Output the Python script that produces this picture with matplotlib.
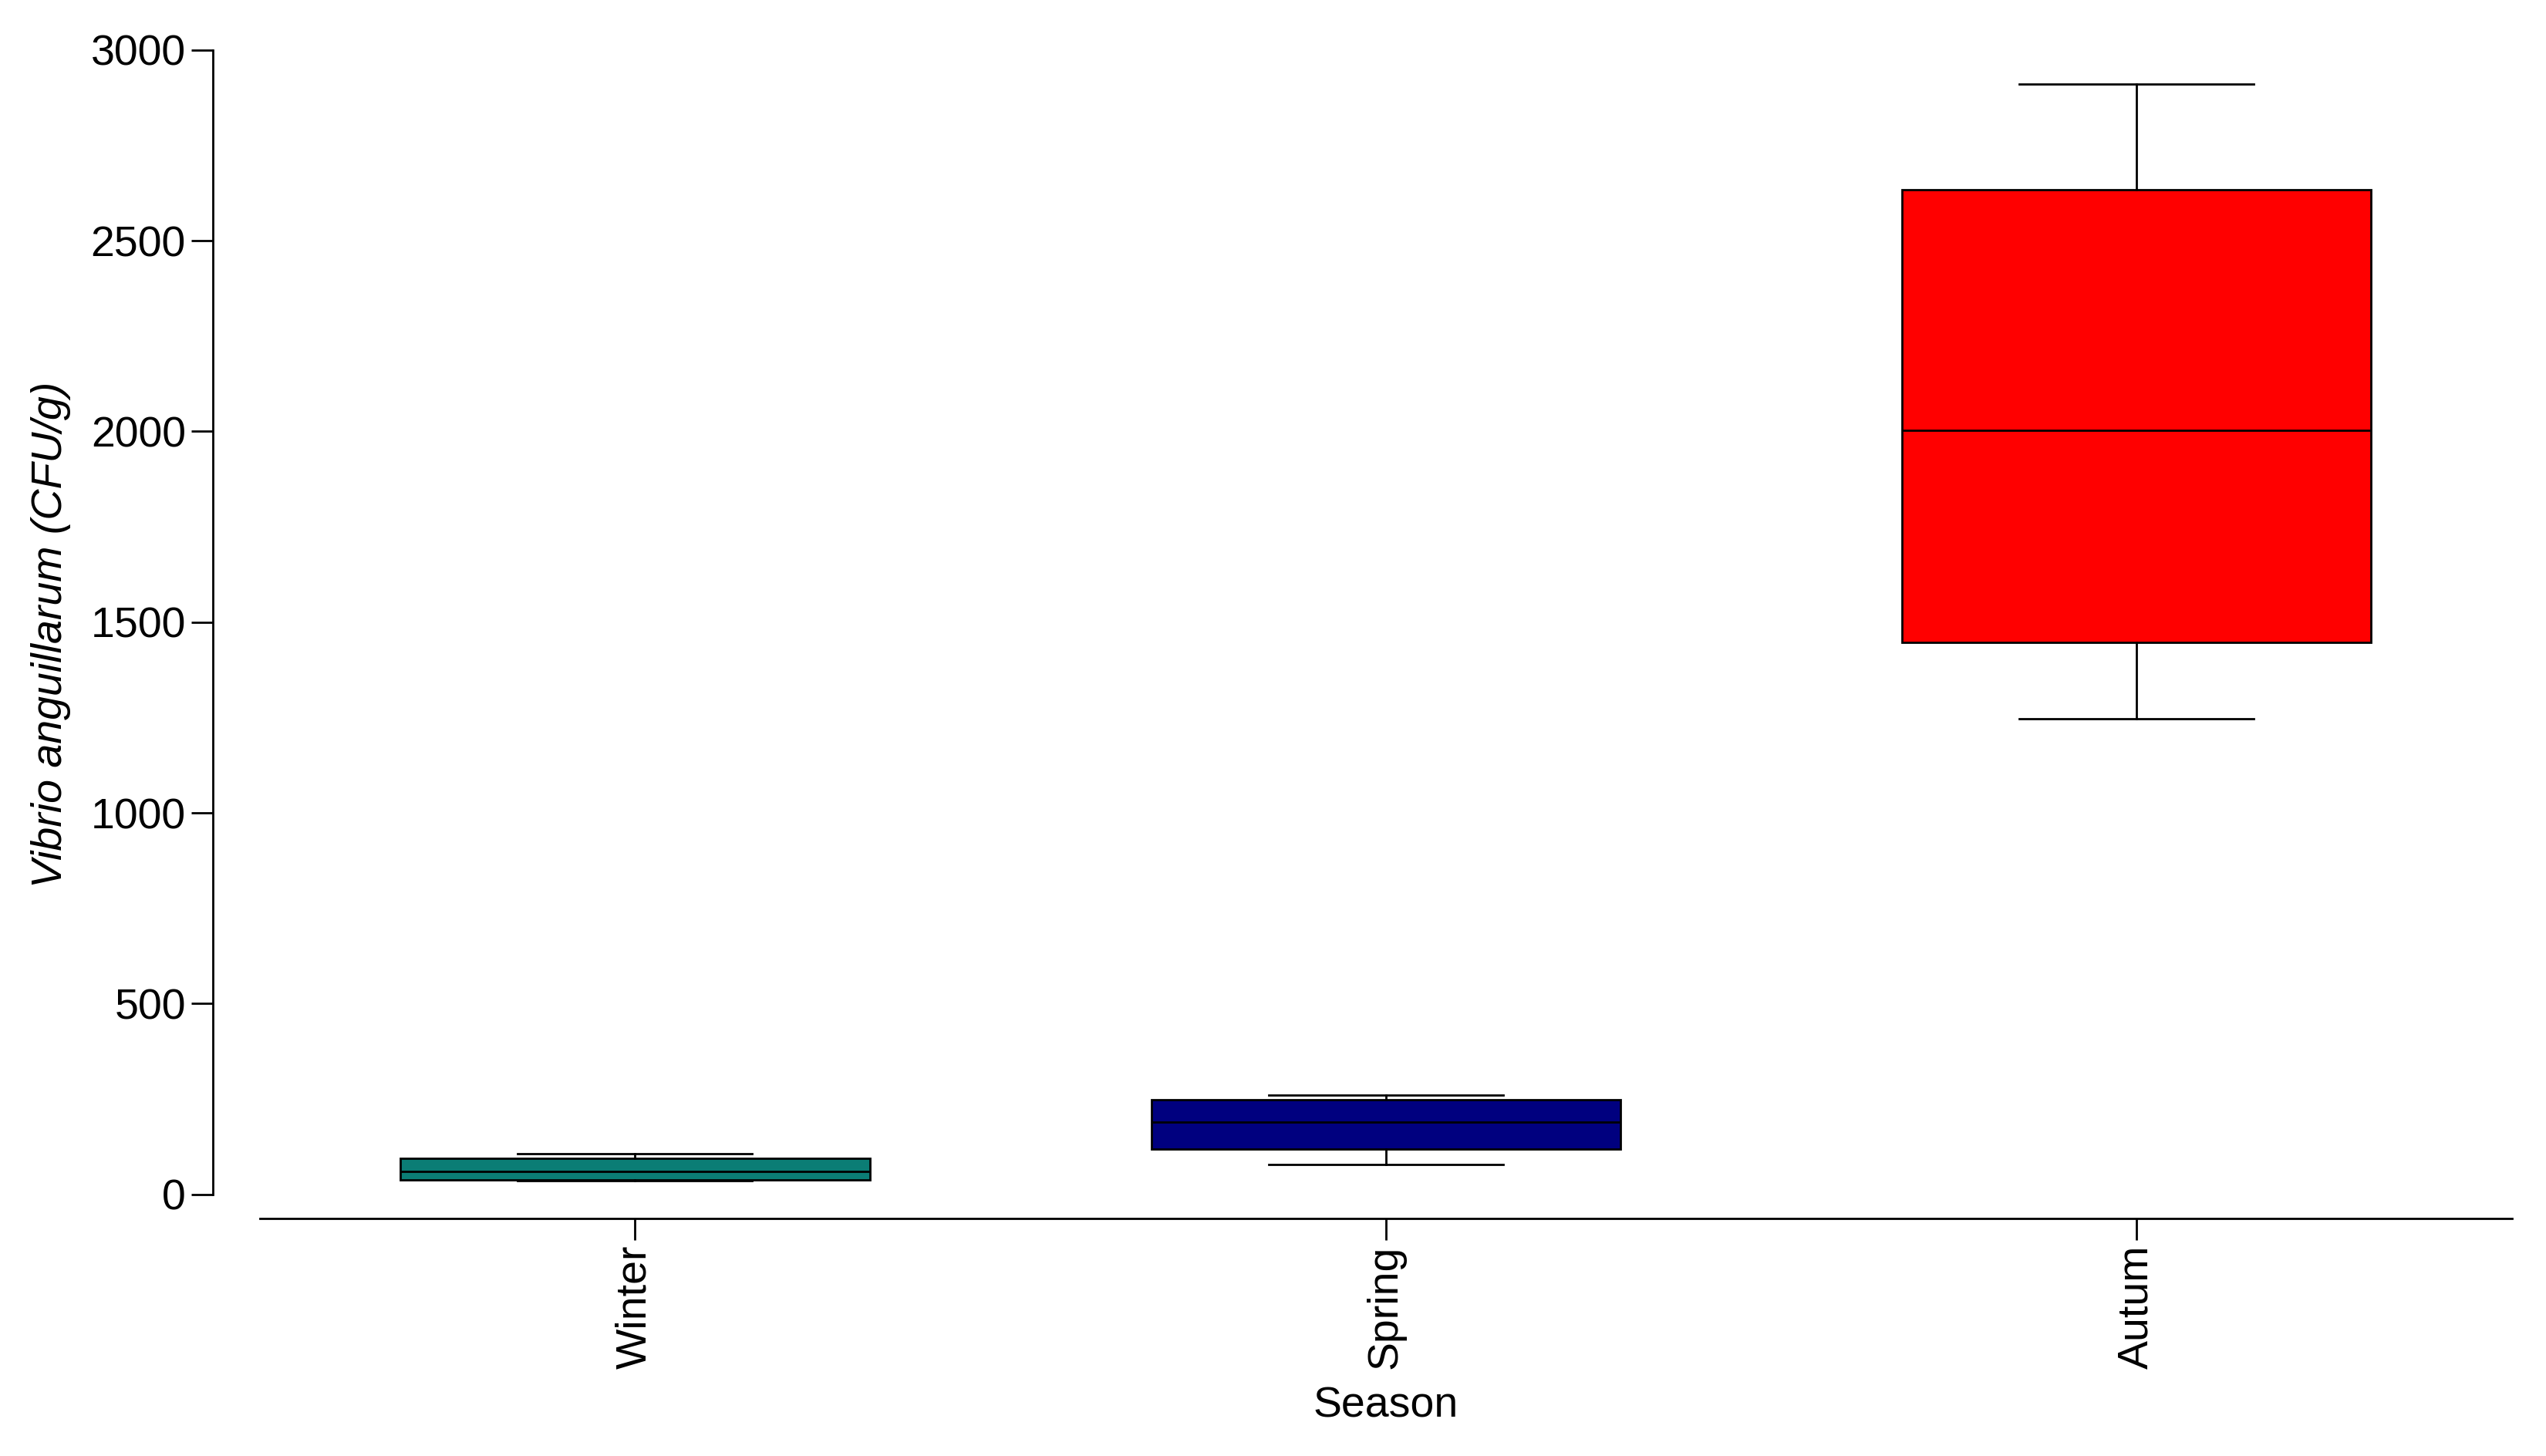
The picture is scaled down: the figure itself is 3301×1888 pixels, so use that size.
import matplotlib
matplotlib.use("Agg")
import matplotlib.pyplot as plt

plt.rcParams['font.family'] = ['Liberation Sans', 'DejaVu Sans']

# values (CFU/g)
seasons = ['Winter', 'Spring', 'Autum']
whis_low = [35, 78, 1247]
q1 = [37, 118, 1447]
median = [60, 190, 2004]
q3 = [94, 247, 2634]
whis_high = [106, 260, 2911]
colors = ['#0b7d75', '#00007f', '#ff0000']

stats = []
for i in range(len(seasons)):
    stats.append({'label': seasons[i], 'whislo': whis_low[i], 'q1': q1[i],
                  'med': median[i], 'q3': q3[i], 'whishi': whis_high[i]})

fig = plt.figure(figsize=(33.01, 18.88), dpi=100)
ax = fig.add_axes([0.102, 0.163, 0.8846, 0.8026])

lw = 2.0
bp = ax.bxp(stats, positions=range(len(seasons)), widths=0.625, patch_artist=True,
            showfliers=False,
            boxprops=dict(linewidth=lw, edgecolor='black'),
            medianprops=dict(color='black', linewidth=lw),
            whiskerprops=dict(color='black', linewidth=lw),
            capprops=dict(color='black', linewidth=lw),
            capwidths=0.3125)
for patch, c in zip(bp['boxes'], colors):
    patch.set_facecolor(c)

ax.set_xlim(-0.5, 2.5)
ax.set_ylim(-64, 3000)
ax.set_yticks([0, 500, 1000, 1500, 2000, 2500, 3000])

for s in ['top', 'right']:
    ax.spines[s].set_visible(False)
ax.spines['left'].set_bounds(0, 3000)
ax.spines['left'].set_position(('outward', 44))
ax.spines['left'].set_linewidth(lw)
ax.spines['bottom'].set_linewidth(lw)

ax.tick_params(axis='both', labelsize=40, length=20, width=lw, pad=5, color='black')
ax.set_xticks(range(len(seasons)))
ax.set_xticklabels(seasons, rotation=90)

ax.set_xlabel('Season', fontsize=40, labelpad=16)
ax.set_ylabel('Vibrio anguillarum (CFU/g)', fontsize=40, style='italic', labelpad=18)

fig.savefig('out.png', dpi=100)
